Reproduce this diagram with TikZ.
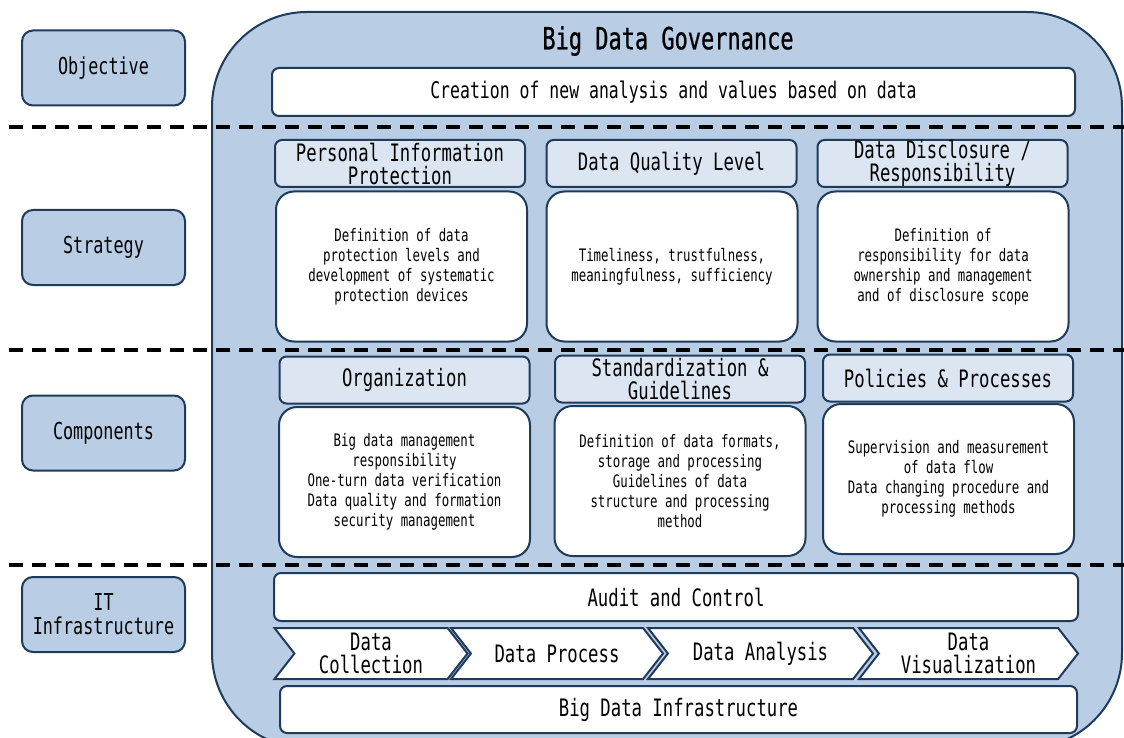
\documentclass[tikz,border=0pt]{standalone}
\usepackage{fontspec}
\setmainfont{DejaVu Sans Mono}[FakeStretch=0.72]
\newfontfamily\titlefont{DejaVu Sans Mono}[FakeStretch=0.72, FakeBold=0.8]
\usetikzlibrary{shapes.symbols}

\definecolor{navy}{HTML}{1F3B5C}
\definecolor{paleblue}{HTML}{B9CDE5}
\definecolor{headblue}{HTML}{DCE6F2}

\tikzset{
	side/.style={draw=navy, line width=2pt, fill=paleblue, rounded corners=11pt,
		minimum width=163pt, minimum height=75pt, align=center,
		font=\fontsize{23.3}{24}\selectfont},
	head/.style={draw=navy, line width=2pt, fill=headblue, rounded corners=7pt,
		minimum width=250pt, minimum height=47pt, inner sep=0pt, align=center,
		font=\fontsize{24}{23}\selectfont},
	body/.style={draw=navy, line width=2pt, fill=white, rounded corners=18pt,
		minimum width=251pt, minimum height=150pt, align=center,
		font=\fontsize{17.2}{20}\selectfont},
	bar/.style={draw=navy, line width=2pt, fill=white, rounded corners=7pt,
		minimum height=48pt, inner sep=0pt, align=center,
		font=\fontsize{24}{23}\selectfont},
	stage/.style={signal, signal to=east, signal from=west, signal pointer angle=104,
		draw=navy, line width=2pt, fill=white, minimum height=51pt, inner sep=0pt,
		align=center, font=\fontsize{24}{23}\selectfont},
	divider/.style={line width=3.5pt, dash pattern=on 14pt off 9pt}
}

\begin{document}
\begin{tikzpicture}[x=1pt, y=-1pt]
	\useasboundingbox (0,0) rectangle (1124,738);
	\clip (0,0) rectangle (1124,738);

	% governance frame
	\draw[draw=navy, line width=2pt, fill=paleblue, rounded corners=95pt] (212,12) rectangle (1122,748);
	\node (title) at (668,41) {\titlefont\fontsize{30.5}{30}\selectfont Big Data Governance};

	% layer separators
	\foreach \y in {127,350,565}
	\draw[divider] (9,\y) -- (1124,\y);

	% layer labels
	\node[side] (objective) at (103.5,68) {Objective};
	\node[side] (strategy) at (103.5,247.5) {Strategy};
	\node[side] (components) at (103.5,433) {Components};
	\node[side] (infra) at (103.5,614.5) {IT\\Infrastructure};

	% objective
	\node[bar, minimum width=803pt, font=\fontsize{22.9}{23}\selectfont] (goal) at (673.5,92)
		{Creation of new analysis and values based on data};

	% strategy
	\node[head] (privacy) at (400,163.5) {Personal Information\\Protection};
	\node[head] (quality) at (671.5,163.5) {Data Quality Level};
	\node[head] (disclosure) at (942.5,163.5) {Data Disclosure /\\Responsibility};
	\node[body] (privacytxt) at (401.5,266.5) {Definition of data\\protection levels and\\development of systematic\\protection devices};
	\node[body] (qualitytxt) at (672,266.5) {Timeliness, trustfulness,\\meaningfulness, sufficiency};
	\node[body] (disclosuretxt) at (943,266.5) {Definition of\\responsibility for data\\ownership and management\\and of disclosure scope};

	% components
	\node[head] (org) at (404.5,380) {Organization};
	\node[head] (std) at (680,379) {Standardization \&\\Guidelines};
	\node[head] (policy) at (948,378) {Policies \& Processes};
	\node[body] (orgtxt) at (404.5,482) {Big data management\\responsibility\\One-turn data verification\\Data quality and formation\\security management};
	\node[body] (stdtxt) at (680,481) {Definition of data formats,\\storage and processing\\Guidelines of data\\structure and processing\\method};
	\node[body] (policytxt) at (948.5,479) {Supervision and measurement\\of data flow\\Data changing procedure and\\processing methods};

	% IT infrastructure
	\node[bar, minimum width=804pt] (audit) at (676,597) {Audit and Control};
	\node[stage, minimum width=193pt] (collect) at (371,653.5) {Data\\Collection};
	\node[stage, minimum width=212pt] (process) at (557,653.5) {Data Process};
	\node[stage, minimum width=225pt] (analysis) at (760.5,653.5) {Data Analysis};
	\node[stage, minimum width=219pt] (visual) at (968.5,653.5) {Data\\Visualization};
	\node[bar, minimum width=797pt, minimum height=47pt] (platform) at (678.5,709.5) {Big Data Infrastructure};
\end{tikzpicture}
\end{document}
